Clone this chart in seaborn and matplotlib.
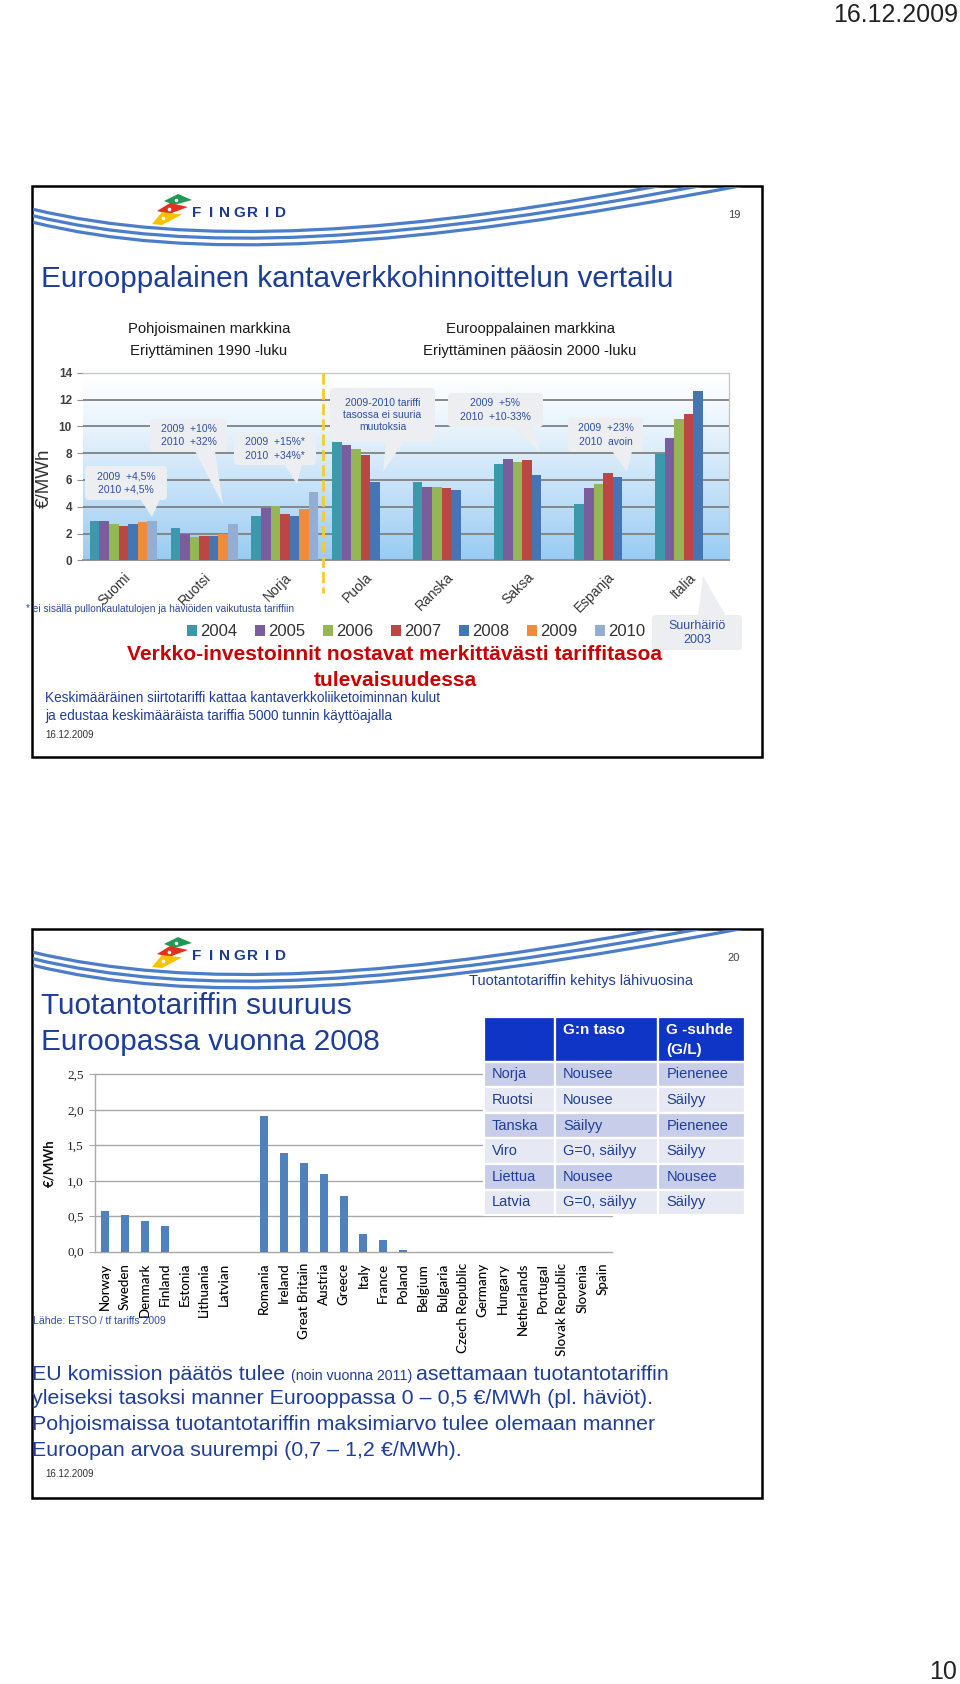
import numpy as np
import pandas as pd
import matplotlib
matplotlib.use("Agg")
import matplotlib.pyplot as plt
import seaborn as sns
from matplotlib.patches import Rectangle, FancyBboxPatch, Polygon, PathPatch
from matplotlib.path import Path
from matplotlib.colors import to_rgb

# ---------------- data ----------------
countries_top = ["Suomi", "Ruotsi", "Norja", "Puola", "Ranska", "Saksa", "Espanja", "Italia"]
years = ["2004", "2005", "2006", "2007", "2008", "2009", "2010"]
year_colors = ["#3C98AB", "#7B5C9C", "#95B655", "#BB4643", "#4675B3", "#EF8B3A", "#93ADD3"]
nan = np.nan
tariff_2004 = [2.90, 2.40, 3.30, 9.28, 5.83, 7.15, 4.19, 7.97]
tariff_2005 = [2.90, 1.97, 3.90, 8.60, 5.48, 7.59, 5.41, 9.11]
tariff_2006 = [2.74, 1.77, 4.08, 8.28, 5.46, 7.34, 5.66, 10.52]
tariff_2007 = [2.59, 1.82, 3.46, 7.84, 5.41, 7.47, 6.55, 10.94]
tariff_2008 = [2.69, 1.82, 3.28, 5.85, 5.24, 6.40, 6.25, 12.63]
tariff_2009 = [2.84, 2.00, 3.83, nan, nan, nan, nan, nan]
tariff_2010 = [2.96, 2.70, 5.07, nan, nan, nan, nan, nan]
top_yticks = [0, 2, 4, 6, 8, 10, 12, 14]

countries_bottom = ["Norway", "Sweden", "Denmark", "Finland", "Estonia", "Lithuania", "Latvian", "",
                    "Romania", "Ireland", "Great Britain", "Austria", "Greece", "Italy", "France",
                    "Poland", "Belgium", "Bulgaria", "Czech Republic", "Germany", "Hungary",
                    "Netherlands", "Portugal", "Slovak Republic", "Slovenia", "Spain"]
g_tariff = [0.58, 0.52, 0.43, 0.36, 0.0, 0.0, 0.0, nan,
            1.91, 1.39, 1.25, 1.10, 0.79, 0.25, 0.17,
            0.03, 0.0, 0.0, 0.0, 0.0, 0.0, 0.0, 0.0, 0.0, 0.0, 0.0]
bottom_yticks = [0.0, 0.5, 1.0, 1.5, 2.0, 2.5]
bottom_yticklabels = ["0,0", "0,5", "1,0", "1,5", "2,0", "2,5"]

table_header = ["", "G:n taso", "G -suhde"]
table_maa = ["Norja", "Ruotsi", "Tanska", "Viro", "Liettua", "Latvia"]
table_taso = ["Nousee", "Nousee", "Säilyy", "G=0, säilyy", "Nousee", "G=0, säilyy"]
table_suhde = ["Pienenee", "Säilyy", "Pienenee", "Säilyy", "Nousee", "Säilyy"]

callouts = [
    ("2009  +4,5%\n2010 +4,5%", (85, 466, 167, 500), (140, 160), (152, 517)),
    ("2009  +10%\n2010  +32%", (150, 419, 227, 452), (195, 215), (223, 505)),
    ("2009  +15%*\n2010  +34%*", (234, 433, 316, 465), (284, 302), (297, 484)),
    ("2009-2010 tariffi\ntasossa ei suuria\nmuutoksia", (330, 388, 435, 442), (386, 404), (383, 472)),
    ("2009  +5%\n2010  +10-33%", (448, 393, 543, 427), (512, 532), (540, 452)),
    ("2009  +23%\n2010  avoin", (568, 418, 643, 452), (612, 632), (627, 472)),
]

# ---------------- setup ----------------
sns.set_style("white")
plt.rcParams["font.family"] = ["Liberation Sans", "DejaVu Sans"]

W, H = 960, 1684
fig = plt.figure(figsize=(W / 100, H / 100), dpi=100)
fig.patch.set_facecolor("white")


def rect(x0, y0, x1, y1):
    return [x0 / W, 1 - y1 / H, (x1 - x0) / W, (y1 - y0) / H]


BLUE_TXT = "#1F3D99"

# ---------------- top chart ----------------
ax1 = fig.add_axes(rect(83, 372.7, 729, 560.3))
series = dict(zip(years, [tariff_2004, tariff_2005, tariff_2006, tariff_2007,
                          tariff_2008, tariff_2009, tariff_2010]))
rows = [(c, y, v) for y, vals in series.items() for c, v in zip(countries_top, vals)
        if not np.isnan(v)]
df1 = pd.DataFrame(rows, columns=["maa", "vuosi", "tariffi"])

grad = np.linspace(0, 1, 256)[:, None, None]
c_top = np.array([1.0, 1.0, 1.0])
c_bot = np.array(to_rgb("#98CBF3"))
img = c_top + (c_bot - c_top) * grad ** 1.2
img = np.repeat(img, 2, axis=1)
ax1.imshow(img, extent=(-0.5, 7.5, 0, 14), aspect="auto", zorder=0, origin="upper")

sns.barplot(data=df1, x="maa", y="tariffi", hue="vuosi", order=countries_top,
            hue_order=years, palette=dict(zip(years, year_colors)), width=0.83,
            saturation=1, errorbar=None, ax=ax1, linewidth=0, zorder=3)
ax1.set_xlim(-0.5, 7.5)
ax1.set_ylim(0, 14)
ax1.set_yticks(top_yticks)
ax1.set_yticklabels([str(v) for v in top_yticks], fontsize=8.5, fontweight="bold", color="#404040")
for yv in top_yticks[1:-1]:
    ax1.axhline(yv, color="#808080", lw=1.3, zorder=1)
ax1.set_xlabel("")
ax1.set_ylabel("€/MWh", fontsize=13.5, color="#333333")
ax1.yaxis.set_label_coords(-0.046, 0.44)
ax1.tick_params(axis="y", length=4, color="#909090", pad=4, left=True)
ax1.tick_params(axis="x", length=0, pad=7)
ax1.set_xticks(range(len(countries_top)))
ax1.set_xticklabels(countries_top, fontsize=10, color="#333333", rotation=45,
                    ha="right", rotation_mode="anchor")
ax1.spines["left"].set_visible(False)
for s in ["top", "right"]:
    ax1.spines[s].set_color("#C4C4C4")
    ax1.spines[s].set_linewidth(0.9)
ax1.spines["bottom"].set_color("#8A8A8A")
ax1.spines["bottom"].set_linewidth(1.3)
ax1.plot([2.47, 2.47], [14, -2.45], color="#F6CC2C", lw=2.0, dashes=(4, 1.5),
         clip_on=False, zorder=4)

sns.move_legend(ax1, "center", bbox_to_anchor=(416 / W, 1 - 632 / H),
                bbox_transform=fig.transFigure, ncol=7, frameon=False, title=None,
                fontsize=12, handlelength=0.6, handleheight=0.6, handletextpad=0.2,
                columnspacing=1.05, labelcolor="#333333")

# ---------------- bottom chart ----------------
ax2 = fig.add_axes(rect(95, 1074.3, 612, 1251.7))
df2 = pd.DataFrame({"maa": countries_bottom, "g": g_tariff}).dropna()
sns.barplot(data=df2, x="maa", y="g", order=countries_bottom, color="#4F81BD",
            saturation=1, width=0.4, errorbar=None, ax=ax2, linewidth=0, zorder=3)
ax2.set_xlim(-0.5, len(countries_bottom) - 0.5)
ax2.set_ylim(0, 2.5)
ax2.set_yticks(bottom_yticks)
ax2.set_yticklabels(bottom_yticklabels, fontsize=9.5, family=["Liberation Serif"], color="#222222")
for yv in bottom_yticks[1:]:
    ax2.axhline(yv, color="#A8A8A8", lw=1.0, zorder=1, clip_on=False)
ax2.set_xticks(range(len(countries_bottom)))
ax2.set_xticklabels(countries_bottom, rotation=90, fontsize=9.6, family=["Lato", "DejaVu Sans"],
                    color="#000000", ha="center", va="top", fontweight="medium")
ax2.tick_params(axis="x", length=0, pad=8)
ax2.tick_params(axis="y", length=4, color="#A8A8A8", pad=4, left=True)
ax2.set_xlabel("")
ax2.set_ylabel("€/MWh", fontsize=9.5, fontweight="bold", family=["Lato", "DejaVu Sans"],
               color="#111111")
ax2.yaxis.set_label_coords(-0.077, 0.5)
for s in ["top", "right"]:
    ax2.spines[s].set_visible(False)
for s in ["left", "bottom"]:
    ax2.spines[s].set_color("#A8A8A8")
    ax2.spines[s].set_linewidth(1.0)
ax2.set_facecolor("none")

# ---------------- overlay (page / slides) ----------------
ax_o = fig.add_axes([0, 0, 1, 1], zorder=10)
ax_o.set_xlim(0, W)
ax_o.set_ylim(H, 0)
ax_o.axis("off")
ax_o.patch.set_alpha(0)
renderer = fig.canvas.get_renderer()


def txt(x, y, s, size=10, color=BLUE_TXT, ha="left", va="center", weight="normal",
        fit=None, **kw):
    t = ax_o.text(x, y, s, fontsize=size, color=color, ha=ha, va=va,
                  fontweight=weight, **kw)
    if fit:
        w = t.get_window_extent(renderer).width
        t.set_fontsize(size * fit / w)
    return t


def logo_and_waves(dy, frame):
    # waves
    for k in range(3):
        P = [(32, 209 + 6.5 * k + dy), (190, 247 + 7 * k + dy), (400, 237 + 7 * k + dy),
             (700 + 25 * k, 178 + 3 * k + dy)]
        path = Path(P, [Path.MOVETO, Path.CURVE4, Path.CURVE4, Path.CURVE4])
        pp = PathPatch(path, fc="none", ec="#4C7DC8", lw=2.3)
        ax_o.add_patch(pp)
        pp.set_clip_path(frame)
    # icon
    ax_o.add_patch(Polygon([(164, 201 + dy), (178, 194 + dy), (192, 200 + dy), (174, 205 + dy)],
                           fc="#1E9A52", ec="none"))
    ax_o.add_patch(Polygon([(157, 211 + dy), (170, 203 + dy), (188, 207 + dy), (169, 214 + dy)],
                           fc="#E2321F", ec="none"))
    ax_o.add_patch(Polygon([(152, 224 + dy), (162, 212 + dy), (182, 214.5 + dy), (162, 225 + dy)],
                           fc="#F5C300", ec="none"))
    for (cx, cy) in [(176, 199.5), (169, 208.5), (163, 218)]:
        ax_o.plot(cx, cy + dy, "o", ms=2.6, mfc="white", mec="none")
    for i, ch in enumerate("FINGRID"):
        txt(197 + i * 14.0, 213 + dy, ch, size=11, color="#1B3B8F", ha="center",
            weight="bold")


# frames
frame1 = Rectangle((32, 186), 730, 571, fill=False, ec="black", lw=1.8)
frame2 = Rectangle((32, 929), 730, 569, fill=False, ec="black", lw=1.8)
ax_o.add_patch(frame1)
ax_o.add_patch(frame2)
clip1 = Rectangle((33, 187), 728, 569, transform=ax_o.transData)
clip2 = Rectangle((33, 930), 728, 567, transform=ax_o.transData)
logo_and_waves(0, clip1)
logo_and_waves(743, clip2)

# page texts
txt(958, 15, "16.12.2009", size=18, color="#222222", ha="right")
txt(957, 1672, "10", size=18, color="#222222", ha="right")

# slide 1 texts
txt(734, 215, "19", size=8, color="#444444", ha="center")
txt(41, 279, "Eurooppalainen kantaverkkohinnoittelun vertailu", size=20, color="#1C3D98",
    fit=633)
t = txt(209, 329, "Pohjoismainen markkina", size=11, color="#1A1A1A", ha="center", fit=161)
fs = t.get_fontsize()
txt(209, 351, "Eriyttäminen 1990 -luku", size=fs, color="#1A1A1A", ha="center")
txt(530, 329, "Eurooppalainen markkina", size=fs, color="#1A1A1A", ha="center")
txt(530, 351, "Eriyttäminen pääosin 2000 -luku", size=fs, color="#1A1A1A", ha="center")

CFC = "#ECEEF1"
for text, (x0, y0, x1, y1), (b0, b1), tip in callouts:
    ax_o.add_patch(FancyBboxPatch((x0, y0), x1 - x0, y1 - y0,
                                  boxstyle="round,pad=0,rounding_size=4", fc=CFC, ec="none"))
    ax_o.add_patch(Polygon([(b0, y1 - 1), (b1, y1 - 1), tip], fc=CFC, ec="none"))
    ls = 1.2 if text.count("\n") == 2 else 1.45
    txt((x0 + x1) / 2, (y0 + y1) / 2, text, size=7.5, color="#2F4F9F", ha="center",
        linespacing=ls, multialignment="center")
# Suurhäiriö callout
ax_o.add_patch(FancyBboxPatch((652, 615), 90, 35, boxstyle="round,pad=0,rounding_size=4",
                              fc=CFC, ec="none"))
ax_o.add_patch(Polygon([(698, 616), (726, 616), (703, 576)], fc=CFC, ec="none"))
txt(697, 633, "Suurhäiriö\n2003", size=9, color="#2F4F9F", ha="center", linespacing=1.25,
    multialignment="center")

txt(26, 609, "* ei sisällä pullonkaulatulojen ja häviöiden vaikutusta tariffiin", size=7,
    color="#2B4A9A", fit=266)
t = txt(395, 655, "Verkko-investoinnit nostavat merkittävästi tariffitasoa", size=14,
        color="#CC0000", ha="center", weight="bold", fit=536)
txt(395, 680, "tulevaisuudessa", size=t.get_fontsize(), color="#CC0000", ha="center",
    weight="bold")
t = txt(45, 698, "Keskimääräinen siirtotariffi kattaa kantaverkkoliiketoiminnan kulut", size=10,
        fit=397)
txt(45, 716, "ja edustaa keskimääräista tariffia 5000 tunnin käyttöajalla", size=t.get_fontsize())
txt(45, 735, "16.12.2009", size=7, color="#333333")

# slide 2 texts
txt(734, 958, "20", size=8, color="#444444", ha="center")
t = txt(41, 1006, "Tuotantotariffin suuruus", size=20, color="#1C3D98", fit=310)
txt(41, 1042, "Euroopassa vuonna 2008", size=t.get_fontsize(), color="#1C3D98")
txt(469, 981, "Tuotantotariffin kehitys lähivuosina", size=10.5, color=BLUE_TXT, fit=224)

# table
col_x = [484, 555, 658.3, 745]
row_y = [1016.7, 1061.5, 1087.2, 1112.8, 1138.4, 1164.0, 1189.5, 1215.0]
for j in range(3):
    ax_o.add_patch(Rectangle((col_x[j], row_y[0]), col_x[j + 1] - col_x[j], row_y[1] - row_y[0],
                             fc="#0F35C6", ec="white", lw=1.6))
txt(col_x[1] + 8, 1030, table_header[1], size=11, color="white", weight="bold")
txt(col_x[2] + 8, 1030, table_header[2], size=11, color="white", weight="bold")
txt(col_x[2] + 8, 1050, "(G/L)", size=11, color="white", weight="bold")
for i in range(len(table_maa)):
    fc = "#C8CEEA" if i % 2 == 0 else "#E6E9F4"
    for j in range(3):
        ax_o.add_patch(Rectangle((col_x[j], row_y[i + 1]), col_x[j + 1] - col_x[j],
                                 row_y[i + 2] - row_y[i + 1], fc=fc, ec="white", lw=1.6))
    yc = (row_y[i + 1] + row_y[i + 2]) / 2
    txt(col_x[0] + 8, yc, table_maa[i], size=10.5)
    txt(col_x[1] + 8, yc, table_taso[i], size=10.5)
    txt(col_x[2] + 8, yc, table_suhde[i], size=10.5)

txt(33, 1321, "Lähde: ETSO / tf tariffs 2009", size=7.5, color="#2F4F9F", fit=133)

# bottom paragraph
t2 = txt(32, 1399, "yleiseksi tasoksi manner Eurooppassa 0 – 0,5 €/MWh (pl. häviöt).", size=14,
         fit=625)
S = t2.get_fontsize()
xx = 32
for seg, sz in [("EU komission päätös tulee ", S), ("(noin vuonna 2011) ", S * 0.66),
                ("asettamaan tuotantotariffin", S)]:
    tt = txt(xx, 1380, seg, size=sz, va="baseline")
    xx += tt.get_window_extent(renderer).width
txt(32, 1425, "Pohjoismaissa tuotantotariffin maksimiarvo tulee olemaan manner", size=S)
txt(32, 1450, "Euroopan arvoa suurempi (0,7 – 1,2 €/MWh).", size=S)
txt(45, 1474, "16.12.2009", size=7, color="#333333")

fig.savefig("out.png", dpi=100)
